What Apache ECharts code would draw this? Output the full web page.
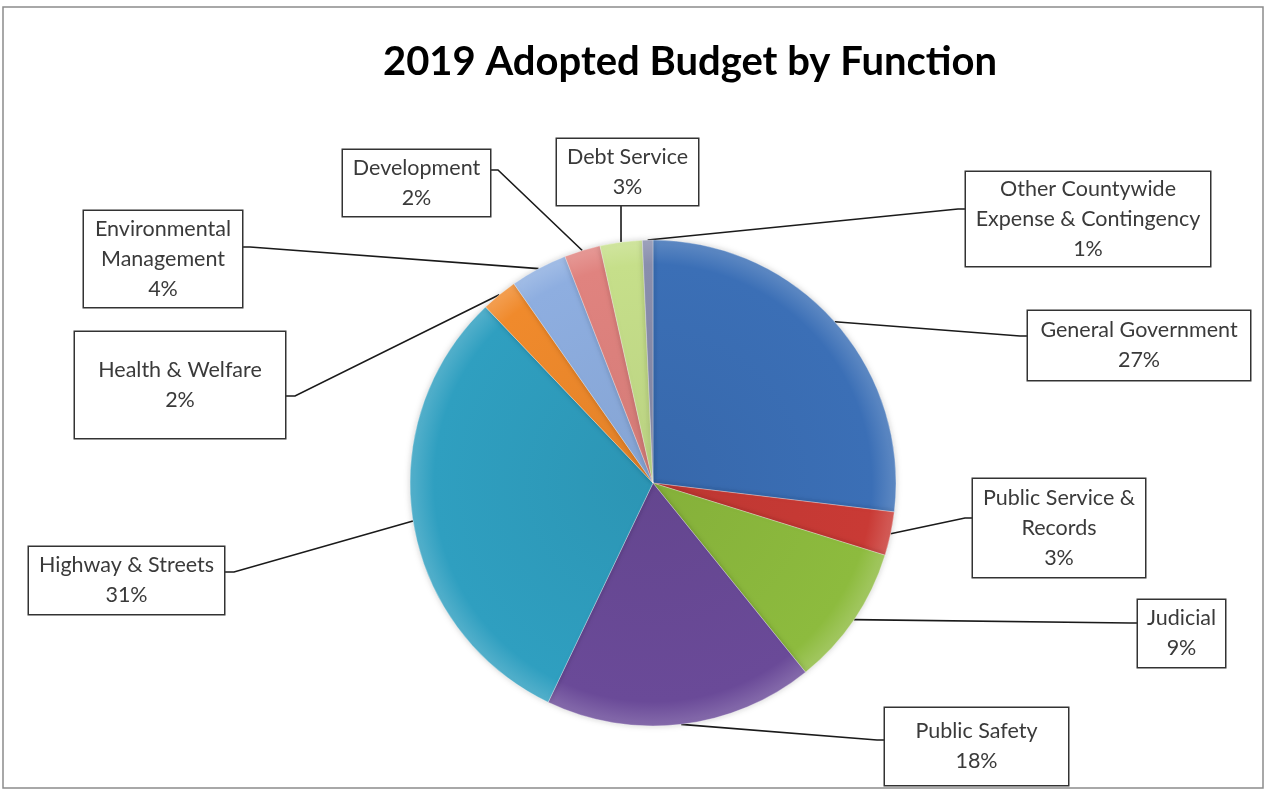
<!DOCTYPE html>
<html>
<head>
<meta charset="utf-8">
<script src="https://cdn.jsdelivr.net/npm/echarts@6/dist/echarts.min.js"></script>
<style>
  html, body { margin: 0; padding: 0; background: #ffffff; }
  #chart { width: 1268px; height: 790px; }
</style>
</head>
<body>
<div id="chart"></div>
<script>
// Budget functions, clockwise from 12 o'clock
const categories = [
  'General Government',
  'Public Service &\nRecords',
  'Judicial',
  'Public Safety',
  'Highway & Streets',
  'Health & Welfare',
  'Environmental\nManagement',
  'Development',
  'Debt Service',
  'Other Countywide\nExpense & Contingency'
];
// Share of the adopted budget, percent
const shares = [26.9, 2.9, 9.4, 17.9, 30.8, 2.4, 3.8, 2.4, 2.8, 0.7];

const sliceColors = ['#3b6fb6', '#c93a35', '#8dbb3e', '#6a4a98', '#2f9fc0',
                     '#f08a2c', '#8eaee0', '#e0837f', '#c6df8a', '#8a8fae'];

// Callout boxes: [left, top, width, height]
const labelBoxes = [
  [1028, 311, 222, 69],
  [973, 479, 172, 98],
  [1138, 600, 87, 67],
  [885, 708, 183, 77],
  [29, 547, 195, 67],
  [75, 332, 210, 106],
  [84, 211, 158, 96],
  [343, 150, 147, 66],
  [557, 139, 141, 66],
  [966, 172, 244, 94]
];
// Leader line ends: [endX, endY, elbowX, elbowY]
const leaderEnds = [
  [1028, 336, 1020, 336],
  [973, 518, 965, 518],
  [1138, 623, 1130, 623],
  [885, 740, 877, 740],
  [224, 572, 234, 572],
  [285, 396, 295, 396],
  [242, 247, 250, 247],
  [490, 170, 498, 170],
  [621, 205, 621, 213],
  [966, 209, 958, 209]
];

const LINE_H = 30;
const PIE_CENTER = [653, 483];
const PIE_R = 243;

function shade(hex, amt) {
  const n = parseInt(hex.slice(1), 16);
  let r = (n >> 16) & 255, g = (n >> 8) & 255, b = n & 255;
  const f = c => Math.max(0, Math.min(255, Math.round(amt >= 0 ? c + (255 - c) * amt : c * (1 + amt))));
  return 'rgb(' + f(r) + ',' + f(g) + ',' + f(b) + ')';
}

const pieData = categories.map((name, i) => {
  const box = labelBoxes[i];
  const lines = name.split('\n').length + 1;
  const vpad = Math.max(0, (box[3] - lines * LINE_H) / 2);
  return {
    name: name,
    value: shares[i],
    itemStyle: {
      color: {
        type: 'radial', x: PIE_CENTER[0], y: PIE_CENTER[1], r: PIE_R, global: true,
        colorStops: [
          { offset: 0, color: shade(sliceColors[i], -0.06) },
          { offset: 0.9, color: sliceColors[i] },
          { offset: 1, color: shade(sliceColors[i], 0.18) }
        ]
      }
    },
    label: { width: box[2], padding: [vpad, 0, vpad, 0] }
  };
});

const chart = echarts.init(document.getElementById('chart'), null, { renderer: 'canvas' });

chart.setOption({
  animation: false,
  backgroundColor: '#ffffff',
  title: {
    text: '2019 Adopted Budget by Function',
    left: 685,
    top: 37,
    textAlign: 'center',
    textStyle: { fontFamily: 'Lato', fontWeight: 'bold', fontSize: 40, color: '#000000' }
  },
  graphic: [{
    type: 'rect',
    shape: { x: 3, y: 7, width: 1260, height: 781 },
    style: { fill: 'none', stroke: '#8c8c8c', lineWidth: 1.5 },
    silent: true
  }],
  series: [{
    type: 'pie',
    center: PIE_CENTER,
    radius: PIE_R,
    startAngle: 90,
    clockwise: true,
    avoidLabelOverlap: false,
    minShowLabelAngle: 0,
    data: pieData,
    itemStyle: {
      borderColor: 'rgba(255,255,255,0.3)',
      borderWidth: 1,
      shadowBlur: 6,
      shadowColor: 'rgba(0,0,0,0.18)'
    },
    label: {
      show: true,
      position: 'outside',
      formatter: p => p.name + '\n' + Math.round(p.value) + '%',
      fontFamily: 'Lato',
      fontSize: 21.5,
      lineHeight: LINE_H,
      color: '#3a3a3a',
      backgroundColor: '#ffffff',
      borderColor: '#333333',
      borderWidth: 1.5,
      align: 'center'
    },
    labelLine: {
      show: true,
      length: 20,
      length2: 20,
      smooth: false,
      lineStyle: { color: '#1a1a1a', width: 1.6 }
    },
    labelLayout: function (p) {
      const i = p.dataIndex;
      const box = labelBoxes[i];
      const le = leaderEnds[i];
      const start = p.labelLinePoints[0];
      return {
        x: box[0] + box[2] / 2,
        y: box[1] + box[3] / 2,
        align: 'center',
        verticalAlign: 'middle',
        labelLinePoints: [start, [le[2], le[3]], [le[0], le[1]]]
      };
    }
  }]
});
</script>
</body>
</html>
